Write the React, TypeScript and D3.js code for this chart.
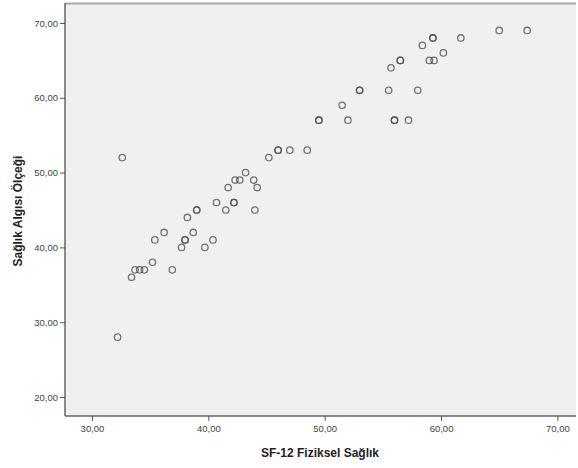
import React, { useEffect, useRef } from 'react';
import * as d3 from 'd3';

// SF-12 physical health score (x) vs health perception scale (y)
const fizikselSaglik = [
  32.6, 32.2, 33.4, 33.7, 34.1, 34.5, 35.2, 36.9, 35.4, 36.2,
  37.7, 38.0, 38.0, 38.7, 38.2, 39.0, 39.0, 39.7, 40.4, 40.7,
  41.5, 42.2, 42.2, 41.7, 42.3, 42.7, 43.2, 43.9, 44.2, 44.0,
  45.2, 46.0, 46.0, 47.0, 48.5, 49.5, 49.5, 52.0, 56.0, 56.0,
  57.2, 51.5, 53.0, 53.0, 55.5, 58.0, 55.7, 56.5, 56.5, 58.4,
  59.3, 59.3, 61.7, 59.0, 59.4, 60.2, 65.0, 67.4,
];
const saglikAlgisi = [
  52, 28, 36, 37, 37, 37, 38, 37, 41, 42,
  40, 41, 41, 42, 44, 45, 45, 40, 41, 46,
  45, 46, 46, 48, 49, 49, 50, 49, 48, 45,
  52, 53, 53, 53, 53, 57, 57, 57, 57, 57,
  57, 59, 61, 61, 61, 61, 64, 65, 65, 67,
  68, 68, 68, 65, 65, 66, 69, 69,
];

const xTicks = [30, 40, 50, 60, 70];
const yTicks = [20, 30, 40, 50, 60, 70];

const xTitle = 'SF-12 Fiziksel Sağlık';
const yTitle = 'Sağlık Algısı Ölçeği';

const fmt = (v: number) => v.toFixed(2).replace('.', ',');

const App = () => {
  const chartRef = useRef<HTMLDivElement>(null);

  useEffect(() => {
    const width = 578;
    const height = 468;
    const margin = { top: 3, right: 2, bottom: 52, left: 65 };
    const chartWidth = width - margin.left - margin.right;
    const chartHeight = height - margin.top - margin.bottom;

    d3.select(chartRef.current).selectAll('*').remove();

    const root = d3.select(chartRef.current)
      .append('svg')
      .attr('width', width)
      .attr('height', height)
      .style('display', 'block')
      .style('font-family', '"Liberation Sans", Arial, sans-serif');

    const svg = root.append('g')
      .attr('transform', `translate(${margin.left},${margin.top})`);

    const xScale = d3.scaleLinear().domain([27.68, 71.6]).range([0, chartWidth]);
    const yScale = d3.scaleLinear().domain([17.46, 72.67]).range([chartHeight, 0]);

    // plot background
    svg.append('rect')
      .attr('width', chartWidth)
      .attr('height', chartHeight)
      .attr('fill', '#f0f0f0');

    svg.append('line')
      .attr('x1', 0).attr('x2', chartWidth)
      .attr('y1', 0.5).attr('y2', 0.5)
      .attr('stroke', '#a8a8a8').attr('stroke-width', 2);

    // points
    svg.selectAll('circle')
      .data(fizikselSaglik.map((x, i) => [x, saglikAlgisi[i]]))
      .enter()
      .append('circle')
      .attr('cx', d => xScale(d[0]))
      .attr('cy', d => yScale(d[1]))
      .attr('r', 3.2)
      .attr('fill', 'none')
      .attr('stroke', '#4a4a4a')
      .attr('stroke-opacity', 0.75)
      .attr('stroke-width', 1.3);

    // axes
    const xAxis = d3.axisBottom(xScale).tickValues(xTicks).tickFormat(d => fmt(+d)).tickSize(5).tickPadding(4);
    const yAxis = d3.axisLeft(yScale).tickValues(yTicks).tickFormat(d => fmt(+d)).tickSize(5).tickPadding(2);

    const gx = svg.append('g')
      .attr('transform', `translate(0,${chartHeight})`)
      .call(xAxis);
    const gy = svg.append('g').call(yAxis);

    [gx, gy].forEach(g => {
      g.select('.domain').attr('stroke', '#666').attr('stroke-width', 1.5);
      g.selectAll('.tick line').attr('stroke', '#555');
      g.selectAll('.tick text')
        .attr('fill', '#444')
        .style('font-size', '9.5px')
        .style('font-family', '"Liberation Sans", Arial, sans-serif');
    });
    gx.select('.domain').attr('d', `M0,0H${chartWidth}`);
    gy.select('.domain').attr('d', `M0,0V${chartHeight}`);

    // titles
    root.append('text')
      .attr('x', 320)
      .attr('y', 457)
      .attr('text-anchor', 'middle')
      .attr('font-size', 12)
      .attr('font-weight', 'bold')
      .attr('fill', '#222')
      .text(xTitle);

    root.append('text')
      .attr('transform', 'translate(22,211) rotate(-90)')
      .attr('text-anchor', 'middle')
      .attr('font-size', 12)
      .attr('font-weight', 'bold')
      .attr('fill', '#222')
      .text(yTitle);
  }, []);

  return <div ref={chartRef} style={{ position: 'absolute', left: 0, top: 0 }}></div>;
};

export default App;
